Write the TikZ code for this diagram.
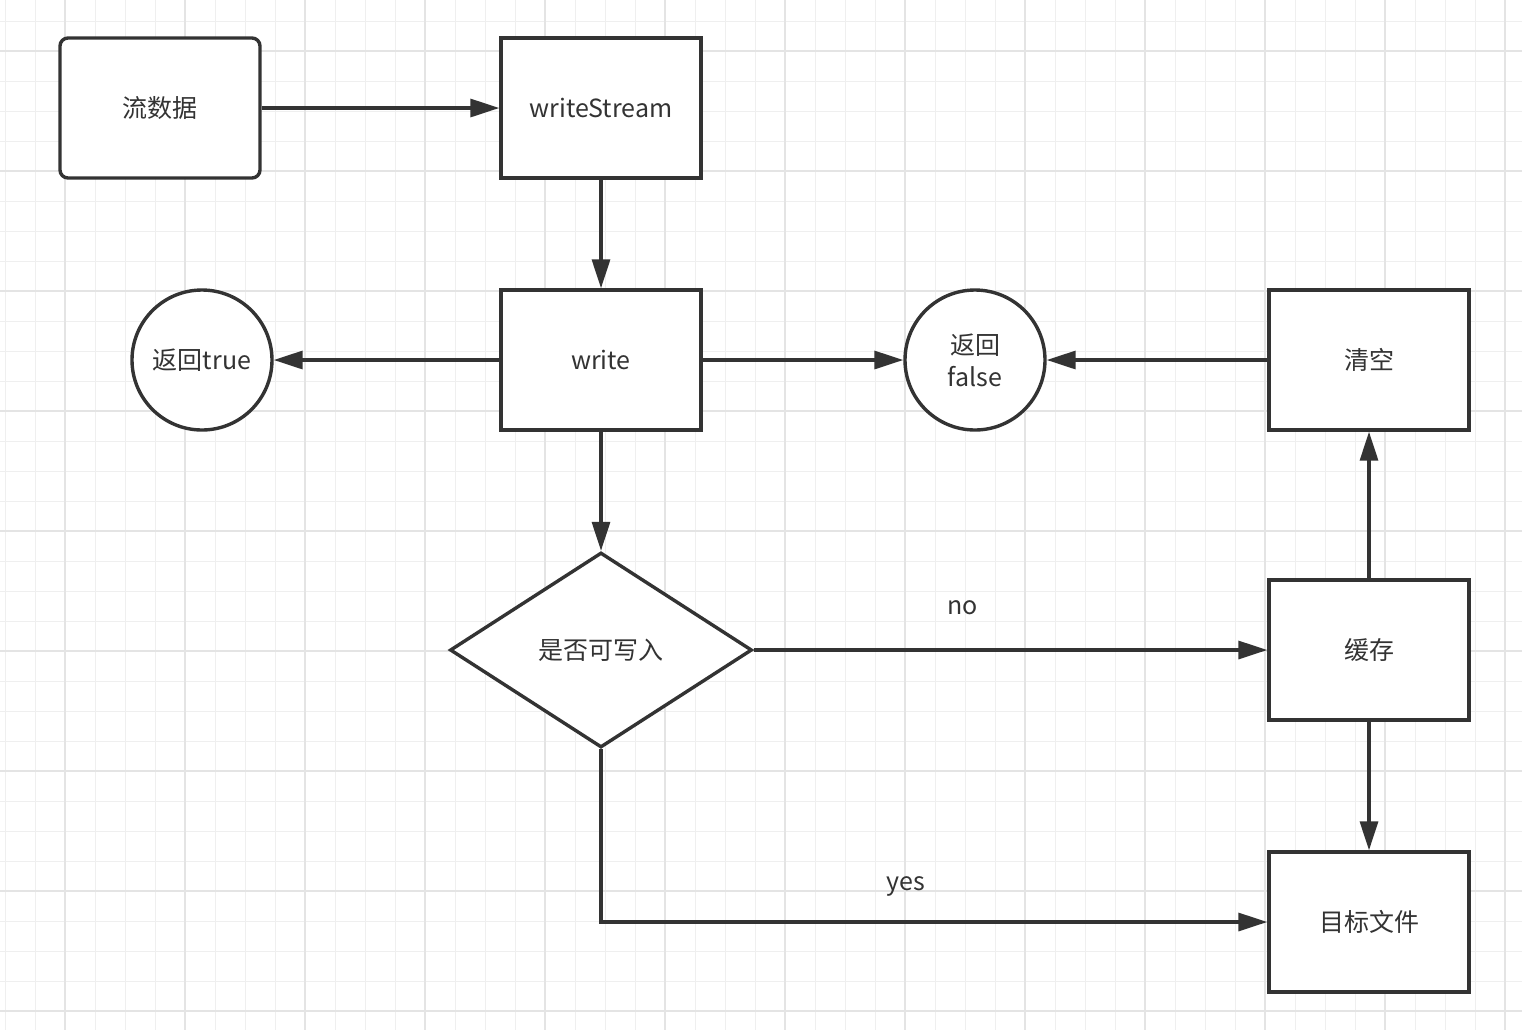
\documentclass[tikz,border=0pt]{standalone}
\usepackage{fontspec}
\setmainfont{Noto Sans CJK SC}
\usetikzlibrary{shapes.geometric,arrows.meta}
\definecolor{ink}{HTML}{333333}
\definecolor{minorgrid}{HTML}{EFEFEF}
\definecolor{majorgrid}{HTML}{E4E4E4}

\begin{document}
\begin{tikzpicture}[x=0.5pt,y=-0.5pt,line width=1.7pt,color=ink,
  font=\fontsize{12.5}{16}\selectfont,
  box/.style={draw=ink,fill=white,minimum width=100pt,minimum height=70pt,inner sep=0pt},
  roundbox/.style={box,rounded corners=4pt},
  endpoint/.style={circle,draw=ink,fill=white,minimum size=70pt,inner sep=0pt,align=center},
  decision/.style={diamond,draw=ink,fill=white,minimum width=151pt,minimum height=97.5pt,inner sep=0pt},
  flow/.style={line width=1.6pt,-{Triangle[length=14.5pt,width=9pt]}}]
\useasboundingbox (0,0) rectangle (1522,1030);
\fill[white] (0,0) rectangle (1522,1030);
% background grid
\foreach \gx in {5,35,...,1505} \draw[minorgrid,line width=0.5pt] (\gx,0) -- (\gx,1030);
\foreach \gy in {21,51,...,1011} \draw[minorgrid,line width=0.5pt] (0,\gy) -- (1522,\gy);
\foreach \gx in {65,185,...,1505} \draw[majorgrid,line width=0.6pt] (\gx,0) -- (\gx,1030);
\foreach \gy in {51,171,...,1011} \draw[majorgrid,line width=0.6pt] (0,\gy) -- (1522,\gy);

\node [roundbox] (data) at (160,108) {流数据};
\node [box] (stream) at (601,108) {writeStream};
\node [box] (write) at (601,360) {write};
\node [endpoint] (true) at (202,360) {返回true};
\node [endpoint] (false) at (975,360) {返回\\false};
\node [box] (clear) at (1369,360) {清空};
\node [decision] (check) at (601,650) {是否可写入};
\node [box] (cache) at (1369,650) {缓存};
\node [box] (target) at (1369,922) {目标文件};

\draw [flow] (data) -- (stream);
\draw [flow] (stream) -- (write);
\draw [flow] (write) -- (true);
\draw [flow] (write) -- (false);
\draw [flow] (clear) -- (false);
\draw [flow] (write) -- (check);
\draw [flow] (check.east) -- (cache.west) node [pos=0.406,yshift=21pt] {no};
\draw [flow] (check.south) |- (target.west) node [pos=0.729,yshift=18pt] {yes};
\draw [flow] (cache) -- (clear);
\draw [flow] (cache) -- (target);
\end{tikzpicture}
\end{document}
